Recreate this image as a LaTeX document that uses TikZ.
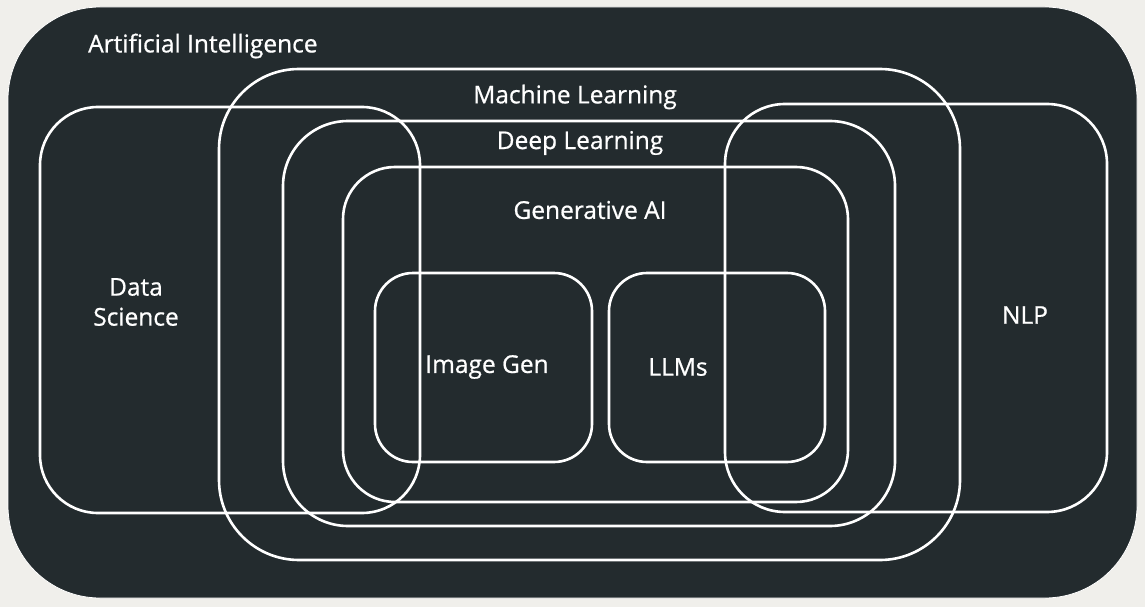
\documentclass[tikz,border=0pt]{standalone}
\usepackage{fontspec}
\setmainfont{Open Sans}
\newfontfamily\lblfont{Open Sans}[FakeBold=0.7]
\usetikzlibrary{positioning}
\definecolor{panel}{RGB}{35,43,46}
\definecolor{paper}{RGB}{240,239,235}

\begin{document}
\begin{tikzpicture}[x=1pt, y=-1pt,
    area/.style={draw=white, line width=2.6pt},
    lbl/.style={text=white, font=\lblfont\fontsize{24.5}{30}\selectfont, inner sep=0pt, align=center}]
  % paper and dark panel
  \fill[paper] (0,0) rectangle (1145,607);
  \filldraw[fill=panel, draw=white, line width=0.8pt, rounded corners=92pt] (8,7) rectangle (1137,598);

  % fields
  \draw[area, rounded corners=58pt] (40,107) rectangle (420,513);   % data science
  \draw[area, rounded corners=80pt] (219,69) rectangle (960,560);   % machine learning
  \draw[area, rounded corners=65pt] (283,121) rectangle (895,526);  % deep learning
  \draw[area, rounded corners=52pt] (343,167) rectangle (848,502);  % generative ai
  \draw[area, rounded corners=60pt] (725,104) rectangle (1107,512); % nlp
  \draw[area, rounded corners=38pt] (375,273) rectangle (592,462);  % image gen
  \draw[area, rounded corners=38pt] (609,273) rectangle (825,462);  % llms

  % labels
  \node[lbl, anchor=west] (ai)  at (88,46)   {Artificial Intelligence};
  \node[lbl] (ml)  at (575,97)  {Machine Learning};
  \node[lbl] (dl)  at (580,143) {Deep Learning};
  \node[lbl] (gen) at (590,210) {Generative AI};
  \node[lbl] (ds)  at (136,302) {Data\\Science};
  \node[lbl] (nlp) at (1025,315) {NLP};
  \node[lbl] (img) at (487,367) {Image Gen};
  \node[lbl] (llm) at (678,367) {LLMs};
\end{tikzpicture}
\end{document}
